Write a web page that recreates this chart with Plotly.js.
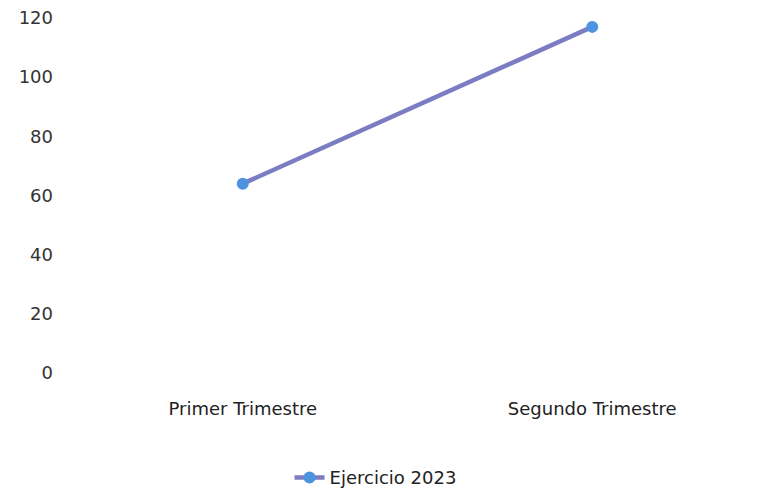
<!DOCTYPE html>
<html>
<head>
<meta charset="utf-8">
<script src="https://cdn.plot.ly/plotly-3.0.1.min.js"></script>
<style>html,body{margin:0;padding:0;background:#fff;}#chart{width:769px;height:498px;}</style>
</head>
<body>
<div id="chart"></div>
<script>
const categories = ["Primer Trimestre", "Segundo Trimestre"];
const values = [64, 117];
const seriesName = "Ejercicio 2023";
const yTicks = [0, 20, 40, 60, 80, 100, 120];

const trace = {
  x: categories,
  y: values,
  name: seriesName,
  type: "scatter",
  mode: "lines+markers",
  line: {color: "#7b7cc2", width: 4.5},
  marker: {color: "#4d94e0", size: 12},
  showlegend: true
};

const layout = {
  width: 769, height: 498,
  margin: {l: 68, r: 2, t: 18, b: 125},
  paper_bgcolor: "#fff", plot_bgcolor: "#fff",
  font: {family: "DejaVu Sans, sans-serif", size: 16, color: "#333"},
  xaxis: {
    type: "category", range: [-0.5, 1.5],
    showgrid: false, zeroline: false, showline: false, ticks: "",
    ticklabelstandoff: 23,
    tickfont: {size: 18, color: "#222"}
  },
  yaxis: {
    range: [0, 120], tickvals: yTicks, ticktext: yTicks.map(String),
    showgrid: false, zeroline: false, showline: false, ticks: "",
    ticklabelstandoff: 14,
    tickfont: {size: 18, color: "#333"}
  },
  showlegend: true,
  legend: {orientation: "h", x: 0.44, xanchor: "center", y: -0.295, yanchor: "middle",
    font: {size: 18, color: "#222"}}
};

Plotly.newPlot("chart", [trace], layout, {displayModeBar: false, staticPlot: true});
</script>
</body>
</html>
